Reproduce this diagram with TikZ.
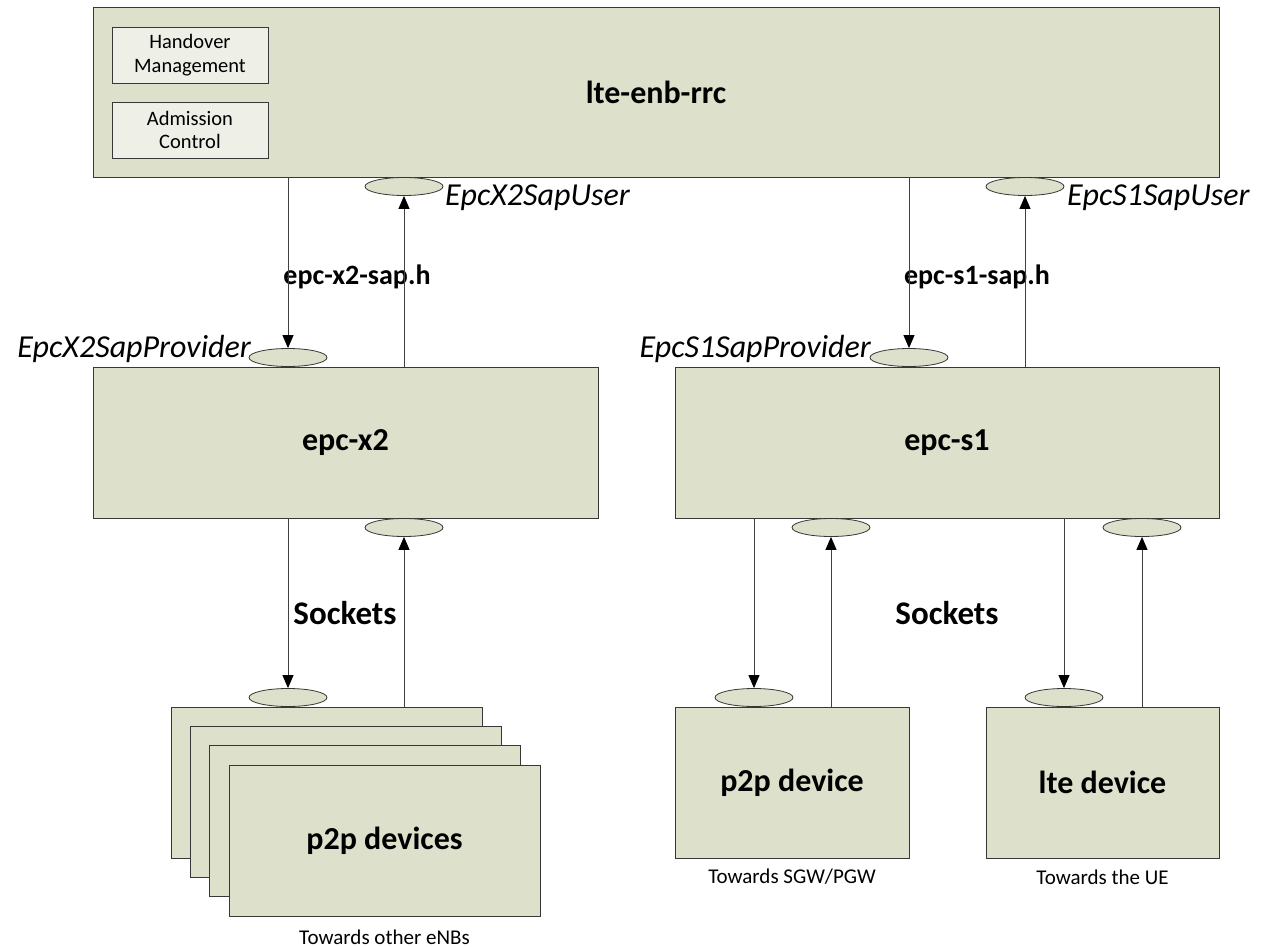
\documentclass[tikz,border=0pt]{standalone}
\usepackage{fontspec}
\setmainfont{Carlito}
\usetikzlibrary{shapes.geometric, arrows.meta, positioning}
\definecolor{boxfill}{RGB}{221,224,203}
\definecolor{subfill}{RGB}{238,239,231}
\definecolor{edgegray}{RGB}{55,55,55}
\tikzset{
	module/.style={rectangle, draw=edgegray, fill=boxfill, line width=0.9pt, inner sep=0pt, font=\fontsize{32}{38}\selectfont\bfseries},
	subbox/.style={rectangle, draw=edgegray, fill=subfill, line width=0.9pt, align=center, minimum width=156pt, minimum height=56pt, inner sep=0pt, font=\fontsize{20.5}{23.5}\selectfont},
	sap/.style={ellipse, draw=edgegray, fill=boxfill, line width=0.8pt, minimum width=78pt, minimum height=18pt, inner sep=0pt},
	saplabel/.style={inner sep=1pt, font=\fontsize{32}{38}\selectfont\itshape},
	hdr/.style={inner sep=0pt, font=\fontsize{28}{34}\selectfont\bfseries},
	sock/.style={inner sep=0pt, font=\fontsize{33}{39}\selectfont\bfseries},
	note/.style={inner sep=0pt, font=\fontsize{21}{25}\selectfont},
	arr/.style={draw=black!75, line width=0.9pt, -{Triangle[length=13pt, width=11pt, fill=black, color=black]}}
}
\begin{document}
\begin{tikzpicture}[x=1pt, y=-1pt]
        \useasboundingbox (0,0) rectangle (1270,947);

        % modules
        \node[module, minimum width=1126pt, minimum height=170pt] (rrc) at (656,92) {lte-enb-rrc};
        \node[subbox] (ho) at (190,55) {Handover\\Management};
        \node[subbox] (ac) at (190,130) {Admission\\Control};
        \node[module, minimum width=505pt, minimum height=151pt] (x2) at (345.5,442.5) {epc-x2};
        \node[module, minimum width=544pt, minimum height=151pt] (s1) at (947,442.5) {epc-s1};

        % devices
        \node[module, minimum width=311pt, minimum height=151pt] (dev1) at (326.5,782.5) {};
        \node[module, minimum width=311pt, minimum height=151pt] (dev2) at (345.8,801.8) {};
        \node[module, minimum width=311pt, minimum height=151pt] (dev3) at (365.2,821.2) {};
        \node[module, minimum width=311pt, minimum height=151pt] (dev4) at (384.5,840.5) {p2p devices};
        \node[module, minimum width=234pt, minimum height=151pt] (p2p) at (792,782.5) {p2p device};
        \node[module, minimum width=233pt, minimum height=151pt] (lte) at (1102.5,782.5) {lte device};

        % SAPs
        \node[sap] (x2user) at (404,186.5) {};
        \node[sap] (x2prov) at (288,357.5) {};
        \node[sap] (s1user) at (1025,186.5) {};
        \node[sap] (s1prov) at (909,357.5) {};
        \node[sap] (x2low) at (404,527.5) {};
        \node[sap] (devsap) at (288,697.5) {};
        \node[sap] (s1lowa) at (831,527.5) {};
        \node[sap] (s1lowb) at (1142,527.5) {};
        \node[sap] (p2psap) at (754,697.5) {};
        \node[sap] (ltesap) at (1064,697.5) {};

        \node[saplabel, anchor=west] (x2userlbl) at (444,198) {EpcX2SapUser};
        \node[saplabel, anchor=west] (s1userlbl) at (1066,198) {EpcS1SapUser};
        \node[saplabel, anchor=east] (x2provlbl) at (252,349) {EpcX2SapProvider};
        \node[saplabel, anchor=east] (s1provlbl) at (872,349) {EpcS1SapProvider};

        \node[hdr] (x2hdr) at (357,277) {epc-x2-sap.h};
        \node[hdr] (s1hdr) at (977,277) {epc-s1-sap.h};
        \node[sock] (x2sock) at (345,613) {Sockets};
        \node[sock] (s1sock) at (947,613) {Sockets};

        \node[note] (enbnote) at (384.5,937) {Towards other eNBs};
        \node[note] (gwnote) at (792,877) {Towards SGW/PGW};
        \node[note] (uenote) at (1102.5,877) {Towards the UE};

        % connectors
        \draw[arr] (rrc.south -| x2prov) -- (x2prov.north);
        \draw[arr] (x2.north -| x2user) -- (x2user.south);
        \draw[arr] (rrc.south -| s1prov) -- (s1prov.north);
        \draw[arr] (s1.north -| s1user) -- (s1user.south);
        \draw[arr] (x2.south -| devsap) -- (devsap.north);
        \draw[arr] (dev1.north -| x2low) -- (x2low.south);
        \draw[arr] (s1.south -| p2psap) -- (p2psap.north);
        \draw[arr] (p2p.north -| s1lowa) -- (s1lowa.south);
        \draw[arr] (s1.south -| ltesap) -- (ltesap.north);
        \draw[arr] (lte.north -| s1lowb) -- (s1lowb.south);
\end{tikzpicture}
\end{document}
